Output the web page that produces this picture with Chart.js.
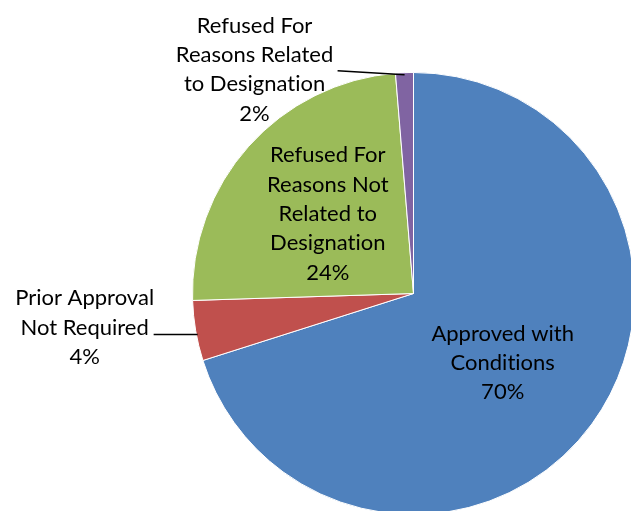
<!DOCTYPE html>
<html>
<head>
<meta charset="utf-8">
<script src="https://cdn.jsdelivr.net/npm/chart.js@4.4.0/dist/chart.umd.min.js"></script>
<style>
  html, body { margin: 0; padding: 0; background: #fff; overflow: hidden; }
  #wrap { width: 631px; height: 511px; overflow: hidden; position: relative; }
  canvas { position: absolute; left: 0; top: 0; }
</style>
</head>
<body>
<div id="wrap"><canvas id="pie" width="700" height="600"></canvas></div>
<script>
// slice names (split into label lines) and values
const categories = [
  ['Approved with', 'Conditions'],
  ['Prior Approval', 'Not Required'],
  ['Refused For', 'Reasons Not', 'Related to', 'Designation'],
  ['Refused For', 'Reasons Related', 'to Designation']
];
const shares = [70.1, 4.4, 24.2, 1.3];
const percentLabels = ['70%', '4%', '24%', '2%'];
const colours = ['#4F81BD', '#C0504D', '#9BBB59', '#8064A2'];

// where each label sits: inside at a fraction of the radius, or outside with a leader line
const labelPlace = [
  { inside: true, r: 0.5, dy: 4 },
  { inside: false, dx: -113, dy: -3, lineEnd: -44, lineY0: 4, lineY1: 4 },
  { inside: true, r: 0.52, dy: -3 },
  { inside: false, dx: -150, dy: -5, lineEnd: -67, lineY0: -4, lineY1: 0 }
];

const FONT = '22px Lato';
const LINE_H = 29.3;

// break the "ti" ligature Lato would otherwise draw
const noLig = s => s.replace(/ti/g, 't\u200Ci');

const pieLabels = {
  id: 'pieLabels',
  afterDraw(chart) {
    const ctx = chart.ctx;
    const arcs = chart.getDatasetMeta(0).data;
    ctx.save();
    ctx.font = FONT;
    ctx.fillStyle = '#000';
    ctx.textAlign = 'center';
    ctx.textBaseline = 'middle';
    arcs.forEach((arc, i) => {
      const p = arc.getProps(['x', 'y', 'startAngle', 'endAngle', 'outerRadius'], true);
      const mid = (p.startAngle + p.endAngle) / 2;
      const place = labelPlace[i];
      let cx, cy;
      if (place.inside) {
        cx = p.x + Math.cos(mid) * p.outerRadius * place.r;
        cy = p.y + Math.sin(mid) * p.outerRadius * place.r + place.dy;
      } else {
        const ex = p.x + Math.cos(mid) * (p.outerRadius - 2);
        const ey = p.y + Math.sin(mid) * (p.outerRadius - 2);
        cx = ex + place.dx;
        cy = ey + place.dy;
        ctx.beginPath();
        ctx.strokeStyle = '#000';
        ctx.lineWidth = 1.5;
        ctx.moveTo(ex + place.lineEnd, ey + place.lineY0);
        ctx.lineTo(ex, ey + place.lineY1);
        ctx.stroke();
      }
      const lines = categories[i].concat([percentLabels[i]]);
      const top = cy - (lines.length - 1) * LINE_H / 2;
      lines.forEach((t, k) => ctx.fillText(noLig(t), cx, top + k * LINE_H));
    });
    ctx.restore();
  }
};

new Chart(document.getElementById('pie'), {
  type: 'pie',
  plugins: [pieLabels],
  data: {
    labels: categories.map(c => c.join(' ')),
    datasets: [{
      data: shares,
      backgroundColor: colours,
      borderColor: '#ffffff',
      borderWidth: 1
    }]
  },
  options: {
    responsive: false,
    animation: false,
    layout: { padding: { left: 192, top: 72, right: 65, bottom: 85 } },
    plugins: {
      legend: { display: false },
      tooltip: { enabled: false }
    }
  }
});
</script>
</body>
</html>
